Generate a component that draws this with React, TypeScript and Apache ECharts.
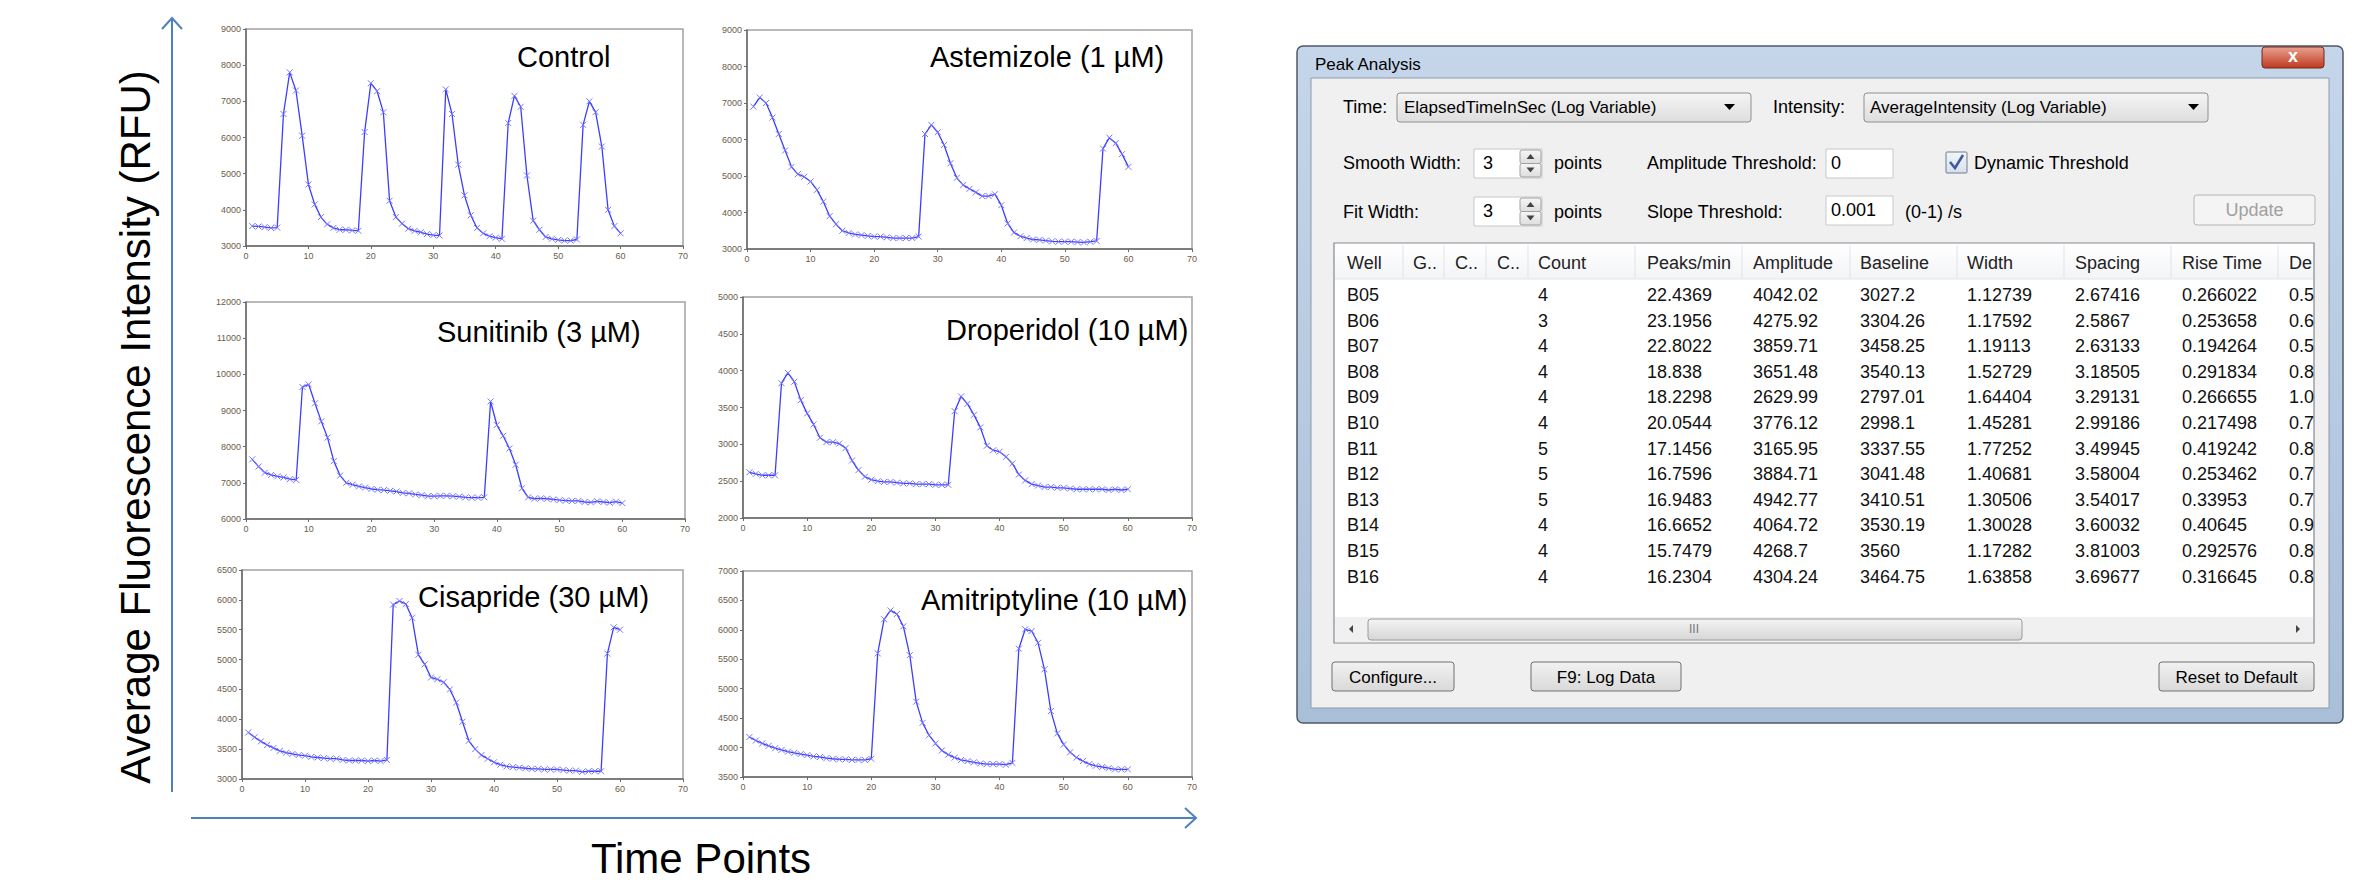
import React, { useEffect, useRef } from "react";
import * as echarts from "echarts";

// ---------- Data ----------
const TIME_POINTS = [
  1, 2, 3, 4, 5, 6, 7, 8, 9, 10, 11, 12, 13, 14, 15, 16, 17, 18, 19, 20,
  21, 22, 23, 24, 25, 26, 27, 28, 29, 30, 31, 32, 33, 34, 35, 36, 37, 38, 39, 40,
  41, 42, 43, 44, 45, 46, 47, 48, 49, 50, 51, 52, 53, 54, 55, 56, 57, 58, 59, 60,
];

const CONTROL = [
  3550, 3540, 3520, 3500, 3510, 6650, 7800, 7300, 6050, 4700, 4150, 3800, 3600, 3500, 3450, 3450, 3430, 3420, 6150, 7500,
  7280, 6700, 4250, 3800, 3620, 3480, 3420, 3380, 3330, 3300, 3290, 7330, 6650, 5250, 4400, 3850, 3500, 3350, 3270, 3230,
  3200, 6400, 7150, 6850, 4950, 3700, 3450, 3250, 3200, 3170, 3150, 3150, 3180, 6350, 7000, 6700, 5750, 4000, 3550, 3350,
];
const ASTEMIZOLE = [
  6900, 7150, 7000, 6600, 6150, 5700, 5250, 5050, 4980, 4850, 4620, 4300, 3900, 3680, 3500, 3440, 3400, 3380, 3360, 3340,
  3340, 3320, 3300, 3300, 3300, 3300, 3340, 6150, 6400, 6200, 5850, 5350, 4950, 4750, 4650, 4550, 4450, 4450, 4500, 4200,
  3700, 3450, 3350, 3300, 3260, 3250, 3230, 3210, 3200, 3200, 3200, 3190, 3180, 3200, 3220, 5750, 6050, 5900, 5600, 5250,
];
const SUNITINIB = [
  7650, 7450, 7280, 7220, 7180, 7150, 7100, 7080, 9650, 9720, 9200, 8700, 8250, 7600, 7200, 7000, 6950, 6900, 6870, 6830,
  6810, 6800, 6780, 6760, 6720, 6710, 6680, 6660, 6630, 6630, 6640, 6640, 6630, 6620, 6600, 6590, 6590, 6600, 9250, 8600,
  8300, 7950, 7500, 6850, 6600, 6560, 6570, 6560, 6540, 6520, 6510, 6500, 6500, 6470, 6460, 6490, 6470, 6450, 6480, 6440,
];
const DROPERIDOL = [
  2620, 2600, 2580, 2580, 2580, 3830, 3970, 3850, 3600, 3420, 3270, 3090, 3030, 3030, 3010, 2950, 2780, 2650, 2560, 2520,
  2500, 2490, 2490, 2480, 2470, 2470, 2460, 2460, 2460, 2450, 2450, 2450, 3450, 3650, 3550, 3400, 3230, 2980, 2920, 2900,
  2830, 2740, 2590, 2510, 2460, 2440, 2420, 2420, 2410, 2410, 2400, 2390, 2390, 2390, 2390, 2390, 2380, 2390, 2380, 2390,
];
const CISAPRIDE = [
  3780, 3700, 3630, 3570, 3520, 3470, 3440, 3420, 3400, 3390, 3370, 3360, 3350, 3340, 3340, 3320, 3310, 3310, 3310, 3300,
  3310, 3300, 3320, 5920, 5980, 5930, 5700, 5080, 4920, 4700, 4670, 4620, 4500, 4280, 3960, 3640, 3500, 3400, 3340, 3280,
  3240, 3210, 3200, 3190, 3180, 3170, 3170, 3160, 3160, 3160, 3150, 3140, 3140, 3120, 3130, 3130, 3130, 5100, 5540, 5500,
];
const AMITRIPTYLINE = [
  4180, 4120, 4070, 4030, 3990, 3960, 3930, 3910, 3890, 3870, 3850, 3840, 3820, 3810, 3800, 3800, 3790, 3790, 3790, 3810,
  5600, 6180, 6330, 6270, 6060, 5570, 4780, 4420, 4210, 4070, 3950, 3880, 3830, 3790, 3770, 3750, 3730, 3720, 3720, 3720,
  3710, 3740, 5680, 6010, 5980, 5780, 5330, 4620, 4240, 4050, 3920, 3830, 3770, 3720, 3690, 3670, 3650, 3630, 3630, 3630,
];

const PANEL_TITLES = ["Control", "Astemizole (1 µM)", "Sunitinib (3 µM)", "Droperidol (10 µM)", "Cisapride (30 µM)", "Amitriptyline (10 µM)"];
const PANEL_SERIES = [CONTROL, ASTEMIZOLE, SUNITINIB, DROPERIDOL, CISAPRIDE, AMITRIPTYLINE];
const Y_MIN = [3000, 3000, 6000, 2000, 3000, 3500];
const Y_MAX = [9000, 9000, 12000, 5000, 6500, 7000];
const Y_STEP = [1000, 1000, 1000, 500, 500, 500];
const X_MIN = 0;
const X_MAX = 70;
const X_STEP = 10;

const Y_AXIS_TITLE = "Average Fluorescence Intensity (RFU)";
const X_AXIS_TITLE = "Time Points";

// Dialog table
const DIALOG_TITLE = "Peak Analysis";
const TABLE_HEADERS = ["Well", "G..", "C..", "C..", "Count", "Peaks/min", "Amplitude", "Baseline", "Width", "Spacing", "Rise Time", "De"];
const WELLS = ["B05", "B06", "B07", "B08", "B09", "B10", "B11", "B12", "B13", "B14", "B15", "B16"];
const COUNTS = ["4", "3", "4", "4", "4", "4", "5", "5", "5", "4", "4", "4"];
const PEAKS_PER_MIN = ["22.4369", "23.1956", "22.8022", "18.838", "18.2298", "20.0544", "17.1456", "16.7596", "16.9483", "16.6652", "15.7479", "16.2304"];
const AMPLITUDES = ["4042.02", "4275.92", "3859.71", "3651.48", "2629.99", "3776.12", "3165.95", "3884.71", "4942.77", "4064.72", "4268.7", "4304.24"];
const BASELINES = ["3027.2", "3304.26", "3458.25", "3540.13", "2797.01", "2998.1", "3337.55", "3041.48", "3410.51", "3530.19", "3560", "3464.75"];
const WIDTHS = ["1.12739", "1.17592", "1.19113", "1.52729", "1.64404", "1.45281", "1.77252", "1.40681", "1.30506", "1.30028", "1.17282", "1.63858"];
const SPACINGS = ["2.67416", "2.5867", "2.63133", "3.18505", "3.29131", "2.99186", "3.49945", "3.58004", "3.54017", "3.60032", "3.81003", "3.69677"];
const RISE_TIMES = ["0.266022", "0.253658", "0.194264", "0.291834", "0.266655", "0.217498", "0.419242", "0.253462", "0.33953", "0.40645", "0.292576", "0.316645"];
const DE_VALUES = ["0.5", "0.6", "0.5", "0.8", "1.0", "0.7", "0.8", "0.7", "0.7", "0.9", "0.8", "0.8"];

// ---------- Layout ----------
const GRIDS = [
  { left: 246, top: 29, width: 437, height: 217 },
  { left: 747, top: 30, width: 445, height: 219 },
  { left: 246, top: 302, width: 439, height: 217 },
  { left: 743, top: 297, width: 449, height: 221 },
  { left: 242, top: 570, width: 441, height: 209 },
  { left: 743, top: 571, width: 449, height: 206 },
];
const TITLE_POS = [
  [517, 57], [930, 57], [437, 332], [946, 330], [418, 597], [921, 600],
];

const FONT = '"Liberation Sans", Arial, sans-serif';

function txt(text: string, x: number, y: number, size: number, opts: any = {}) {
  return {
    type: "text",
    x,
    y,
    z: opts.z ?? 20,
    rotation: opts.rotation ?? 0,
    silent: true,
    style: {
      text,
      font: `${opts.weight ?? "normal"} ${size}px ${opts.family ?? FONT}`,
      fill: opts.fill ?? "#000",
      textAlign: opts.align ?? "left",
      textVerticalAlign: "middle",
    },
  };
}

function rect(x: number, y: number, w: number, h: number, style: any, r = 0, z = 10) {
  return { type: "rect", z, silent: true, shape: { x, y, width: w, height: h, r }, style };
}

function vgrad(c1: string, c2: string) {
  return new echarts.graphic.LinearGradient(0, 0, 0, 1, [
    { offset: 0, color: c1 },
    { offset: 1, color: c2 },
  ]);
}

function buildDialog() {
  const els: any[] = [];
  // window frame
  const W = { x: 1297, y: 46, w: 1046, h: 677 };
  els.push(rect(W.x, W.y, W.w, W.h, { fill: vgrad("#c5d6ea", "#a9bfd8"), stroke: "#4f5a68", lineWidth: 1.5 }, 6, 5));
  // title
  els.push(txt(DIALOG_TITLE, W.x + 18, W.y + 18, 17, { fill: "#000" }));
  // close button
  els.push(rect(2262, W.y + 1, 62, 21, { fill: vgrad("#e8a28f", "#c0391f"), stroke: "#6e2a1c", lineWidth: 1 }, 3, 12));
  els.push(txt("x", 2293, W.y + 10, 18, { align: "center", fill: "#fff", weight: "bold" }));
  // client area
  const C = { x: 1311, y: 78, w: 1018, h: 630 };
  els.push(rect(C.x, C.y, C.w, C.h, { fill: "#f0f0f0", stroke: "#8d9aab", lineWidth: 1 }, 0, 6));

  // Row 1: Time / Intensity
  const r1 = 107;
  els.push(txt("Time:", 1343, r1, 18));
  els.push(rect(1397, 93, 354, 29, { fill: vgrad("#f4f4f4", "#dedede"), stroke: "#8e8f8f", lineWidth: 1 }, 3));
  els.push(txt("ElapsedTimeInSec (Log Variable)", 1404, r1, 17));
  els.push({ type: "polygon", z: 20, silent: true, shape: { points: [[1724, r1 - 3], [1735, r1 - 3], [1729.5, r1 + 3]] }, style: { fill: "#000" } });
  els.push(txt("Intensity:", 1773, r1, 18));
  els.push(rect(1864, 93, 344, 29, { fill: vgrad("#f4f4f4", "#dedede"), stroke: "#8e8f8f", lineWidth: 1 }, 3));
  els.push(txt("AverageIntensity (Log Variable)", 1870, r1, 17));
  els.push({ type: "polygon", z: 20, silent: true, shape: { points: [[2188, r1 - 3], [2199, r1 - 3], [2193.5, r1 + 3]] }, style: { fill: "#000" } });

  // spin box helper
  const spin = (x: number, y: number, val: string) => {
    els.push(rect(x, y, 68, 29, { fill: "#fff", stroke: "#c8c8c8", lineWidth: 1 }, 0));
    els.push(txt(val, x + 9, y + 14, 18));
    els.push(rect(x + 46, y + 1, 21, 13.5, { fill: vgrad("#f6f6f6", "#dddddd"), stroke: "#a0a0a0", lineWidth: 1 }, 2, 12));
    els.push(rect(x + 46, y + 14.5, 21, 13.5, { fill: vgrad("#f6f6f6", "#dddddd"), stroke: "#a0a0a0", lineWidth: 1 }, 2, 12));
    els.push({ type: "polygon", z: 20, silent: true, shape: { points: [[x + 52.5, y + 10], [x + 60.5, y + 10], [x + 56.5, y + 5]] }, style: { fill: "#444" } });
    els.push({ type: "polygon", z: 20, silent: true, shape: { points: [[x + 52.5, y + 18.5], [x + 60.5, y + 18.5], [x + 56.5, y + 23.5]] }, style: { fill: "#444" } });
  };
  const tbox = (x: number, y: number, val: string) => {
    els.push(rect(x, y, 67, 29, { fill: "#fff", stroke: "#c8c8c8", lineWidth: 1 }, 0));
    els.push(txt(val, x + 5, y + 14, 18));
  };

  // Row 2
  const r2 = 163;
  els.push(txt("Smooth Width:", 1343, r2, 18));
  spin(1474, 149, "3");
  els.push(txt("points", 1554, r2, 18));
  els.push(txt("Amplitude Threshold:", 1647, r2, 18));
  tbox(1826, 149, "0");
  els.push(rect(1946, 152, 21, 21, { fill: vgrad("#f2f6fb", "#d6e0ec"), stroke: "#6e7c8e", lineWidth: 1 }, 1));
  els.push({ type: "polyline", z: 21, silent: true, shape: { points: [[1950, 162], [1955, 168], [1963, 155]] }, style: { stroke: "#3a5a9a", lineWidth: 2.5, fill: "none" } });
  els.push(txt("Dynamic Threshold", 1974, r2, 18));

  // Row 3
  const r3 = 212;
  els.push(txt("Fit Width:", 1343, r3, 18));
  spin(1474, 197, "3");
  els.push(txt("points", 1554, r3, 18));
  els.push(txt("Slope Threshold:", 1647, r3, 18));
  tbox(1826, 196, "0.001");
  els.push(txt("(0-1) /s", 1905, r3, 18));
  els.push(rect(2194, 195, 121, 30, { fill: "#f4f4f4", stroke: "#b5b5b5", lineWidth: 1 }, 3));
  els.push(txt("Update", 2254.5, 210, 18, { align: "center", fill: "#a0a0a0" }));

  // Table
  const TB = { x: 1334, y: 243, w: 980, h: 400 };
  els.push(rect(TB.x, TB.y, TB.w, TB.h, { fill: "#fff", stroke: "#828790", lineWidth: 1.2 }, 0, 8));
  els.push(rect(TB.x + 1, TB.y + 1, TB.w - 2, 35, { fill: vgrad("#ffffff", "#f3f4f6") }, 0, 9));
  els.push({ type: "line", z: 12, silent: true, shape: { x1: TB.x + 1, y1: 279, x2: TB.x + TB.w - 1, y2: 279 }, style: { stroke: "#e3e5e8", lineWidth: 1 } });
  const SEPS = [1403, 1444, 1486, 1528, 1635, 1742, 1850, 1957, 2064, 2171, 2278];
  SEPS.forEach((sx) =>
    els.push({ type: "line", z: 12, silent: true, shape: { x1: sx, y1: 245, x2: sx, y2: 278 }, style: { stroke: "#e2e3e6", lineWidth: 1 } })
  );
  const COLX = [1347, 1413, 1455, 1497, 1538, 1647, 1753, 1860, 1967, 2075, 2182, 2289];
  TABLE_HEADERS.forEach((h, i) => els.push(txt(h, COLX[i], 263, 18, { fill: "#222" })));
  const columns: (string[] | null)[] = [WELLS, null, null, null, COUNTS, PEAKS_PER_MIN, AMPLITUDES, BASELINES, WIDTHS, SPACINGS, RISE_TIMES, DE_VALUES];
  WELLS.forEach((_, r) => {
    const y = 295 + r * 25.6;
    columns.forEach((col, ci) => {
      if (col) els.push(txt(col[r], COLX[ci], y, 18, { fill: "#111" }));
    });
  });
  // scrollbar
  els.push(rect(TB.x + 1, 617, TB.w - 2, 25, { fill: "#f0f0f0" }, 0, 13));
  els.push(rect(1368, 619, 654, 21, { fill: vgrad("#f4f4f4", "#d6d6d6"), stroke: "#9a9a9a", lineWidth: 1 }, 3, 14));
  els.push(txt("III", 1694, 629, 12, { align: "center", fill: "#777" }));
  els.push({ type: "polygon", z: 20, silent: true, shape: { points: [[1349, 629], [1353, 625], [1353, 633]] }, style: { fill: "#444" } });
  els.push({ type: "polygon", z: 20, silent: true, shape: { points: [[2300, 629], [2296, 625], [2296, 633]] }, style: { fill: "#444" } });

  // bottom buttons
  const btn = (x: number, w: number, label: string) => {
    els.push(rect(x, 662, w, 29, { fill: vgrad("#f2f2f2", "#d9d9d9"), stroke: "#707070", lineWidth: 1 }, 3));
    els.push(txt(label, x + w / 2, 677, 17, { align: "center" }));
  };
  btn(1332, 122, "Configure...");
  btn(1531, 150, "F9: Log Data");
  btn(2159, 155, "Reset to Default");
  return els;
}

function buildOption() {
  const grid = GRIDS.map((g) => ({
    left: g.left,
    top: g.top,
    width: g.width,
    height: g.height,
    show: true,
    borderColor: "#a3a3a3",
    borderWidth: 1.5,
    backgroundColor: "#fff",
  }));
  const axisCommon = {
    axisLine: { show: true, lineStyle: { color: "#6a6a6a", width: 1.5 } },
    axisTick: { show: true, length: 3, lineStyle: { color: "#6a6a6a" } },
    splitLine: { show: false },
  };
  const labelStyle = {
    fontSize: 9,
    color: "#6b5b4b",
    margin: 5,
    fontFamily: FONT,
    formatter: (v: number) => String(v),
  };
  const xAxis = GRIDS.map((_, i) => ({
    gridIndex: i,
    type: "value",
    min: X_MIN,
    max: X_MAX,
    interval: X_STEP,
    ...axisCommon,
    axisLabel: labelStyle,
  }));
  const yAxis = GRIDS.map((_, i) => ({
    gridIndex: i,
    type: "value",
    min: Y_MIN[i],
    max: Y_MAX[i],
    interval: Y_STEP[i],
    ...axisCommon,
    axisLabel: labelStyle,
  }));
  const series = PANEL_SERIES.map((vals, i) => ({
    type: "line",
    xAxisIndex: i,
    yAxisIndex: i,
    data: TIME_POINTS.map((t, k) => [t, vals[k]]),
    symbol: "path://M0 0L10 10M10 0L0 10",
    symbolSize: 6,
    showSymbol: true,
    lineStyle: { color: "#3d3dff", width: 1.3 },
    itemStyle: { color: "rgba(0,0,0,0)", borderColor: "#7777ff", borderWidth: 1 },
    emphasis: { disabled: true },
  }));

  const graphics: any[] = [];
  PANEL_TITLES.forEach((t, i) => graphics.push(txt(t, TITLE_POS[i][0], TITLE_POS[i][1], 29)));
  // big axis arrows
  const AX = "#4f81bd";
  graphics.push({ type: "line", z: 15, silent: true, shape: { x1: 172, y1: 792, x2: 172, y2: 18 }, style: { stroke: AX, lineWidth: 2 } });
  graphics.push({ type: "polyline", z: 15, silent: true, shape: { points: [[162, 29], [172, 18], [182, 29]] }, style: { stroke: AX, lineWidth: 2, fill: "none" } });
  graphics.push({ type: "line", z: 15, silent: true, shape: { x1: 191, y1: 818, x2: 1196, y2: 818 }, style: { stroke: AX, lineWidth: 2 } });
  graphics.push({ type: "polyline", z: 15, silent: true, shape: { points: [[1185, 808], [1196, 818], [1185, 828]] }, style: { stroke: AX, lineWidth: 2, fill: "none" } });
  graphics.push(txt(Y_AXIS_TITLE, 135, 427, 42, { rotation: Math.PI / 2, align: "center" }));
  graphics.push(txt(X_AXIS_TITLE, 701, 858, 42, { align: "center" }));
  graphics.push(...buildDialog());

  return {
    animation: false,
    backgroundColor: "#ffffff",
    grid,
    xAxis,
    yAxis,
    series,
    graphic: { elements: graphics },
  };
}

export default function App() {
  const ref = useRef<HTMLDivElement>(null);
  useEffect(() => {
    if (!ref.current) return;
    const chart = echarts.init(ref.current, undefined, { renderer: "svg" });
    chart.setOption(buildOption() as any);
    return () => chart.dispose();
  }, []);
  return (
    <div
      ref={ref}
      style={{ position: "absolute", left: 0, top: 0, width: 2374, height: 885, background: "#fff" }}
    />
  );
}
